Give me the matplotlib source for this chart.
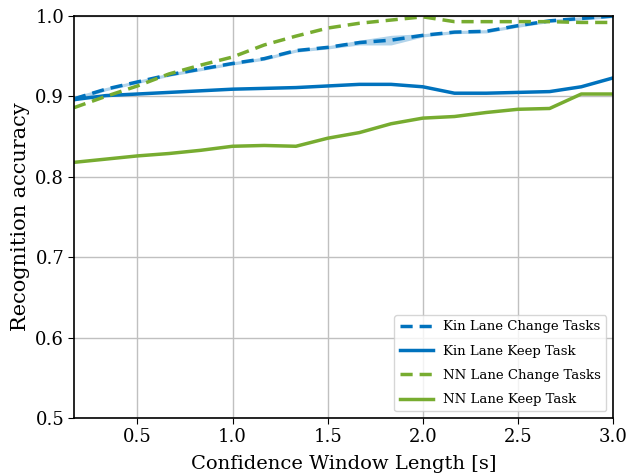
import numpy as np
import matplotlib
matplotlib.use("Agg")
import matplotlib.pyplot as plt

plt.rcParams['font.family'] = ['DejaVu Serif']

window = [k / 6 for k in range(1, 19)]
kin_change = [0.897, 0.909, 0.918, 0.927, 0.934, 0.941, 0.947, 0.957, 0.961, 0.967,
              0.970, 0.976, 0.980, 0.981, 0.988, 0.994, 0.997, 1.000]
kin_change_std = [0.003, 0.002, 0.002, 0.002, 0.002, 0.002, 0.002, 0.002, 0.002, 0.003,
                  0.006, 0.002, 0.002, 0.002, 0.002, 0.002, 0.002, 0.002]
kin_keep = [0.896, 0.901, 0.903, 0.905, 0.907, 0.909, 0.910, 0.911, 0.913, 0.915,
            0.915, 0.912, 0.904, 0.904, 0.905, 0.906, 0.912, 0.923]
nn_change = [0.886, 0.900, 0.913, 0.928, 0.939, 0.949, 0.964, 0.975, 0.985, 0.991,
             0.995, 0.999, 0.993, 0.993, 0.993, 0.993, 0.992, 0.992]
nn_keep = [0.818, 0.822, 0.826, 0.829, 0.833, 0.838, 0.839, 0.838, 0.848, 0.855,
           0.866, 0.873, 0.875, 0.880, 0.884, 0.885, 0.903, 0.903]

blue = '#0072BD'
green = '#77AC30'

fig = plt.figure(figsize=(6.29, 4.74), dpi=100)
ax = fig.add_axes([0.1176, 0.1181, 0.9746 - 0.1176, 0.9662 - 0.1181])

x = np.array(window)
kc = np.array(kin_change)
ks = np.array(kin_change_std)
ax.fill_between(x, kc - ks, kc + ks, color=blue, alpha=0.3, lw=0)
ax.plot(x, kc, color=blue, lw=2.5, ls=(0, (3.5, 2)), label='Kin Lane Change Tasks')
ax.plot(x, kin_keep, color=blue, lw=2.5, label='Kin Lane Keep Task')
ax.plot(x, nn_change, color=green, lw=2.5, ls=(0, (3.5, 2)), label='NN Lane Change Tasks')
ax.plot(x, nn_keep, color=green, lw=2.5, label='NN Lane Keep Task')

ax.set_xlim(window[0], 3.0)
ax.set_ylim(0.5, 1.0)
ax.set_xticks([0.5, 1.0, 1.5, 2.0, 2.5, 3.0])
ax.set_yticks([0.5, 0.6, 0.7, 0.8, 0.9, 1.0])
ax.tick_params(labelsize=13, direction='out', length=4, pad=3)
ax.grid(True, color='#c0c0c0', lw=1)
ax.set_axisbelow(True)
for s in ax.spines.values():
    s.set_linewidth(1.2)
ax.set_xlabel('Confidence Window Length [s]', fontsize=14, labelpad=7)
ax.set_ylabel('Recognition accuracy', fontsize=15, labelpad=4)
ax.legend(loc='lower right', fontsize=9.5, handlelength=2.5, labelspacing=0.85,
          framealpha=0.8)

fig.savefig('out.png', dpi=100)
